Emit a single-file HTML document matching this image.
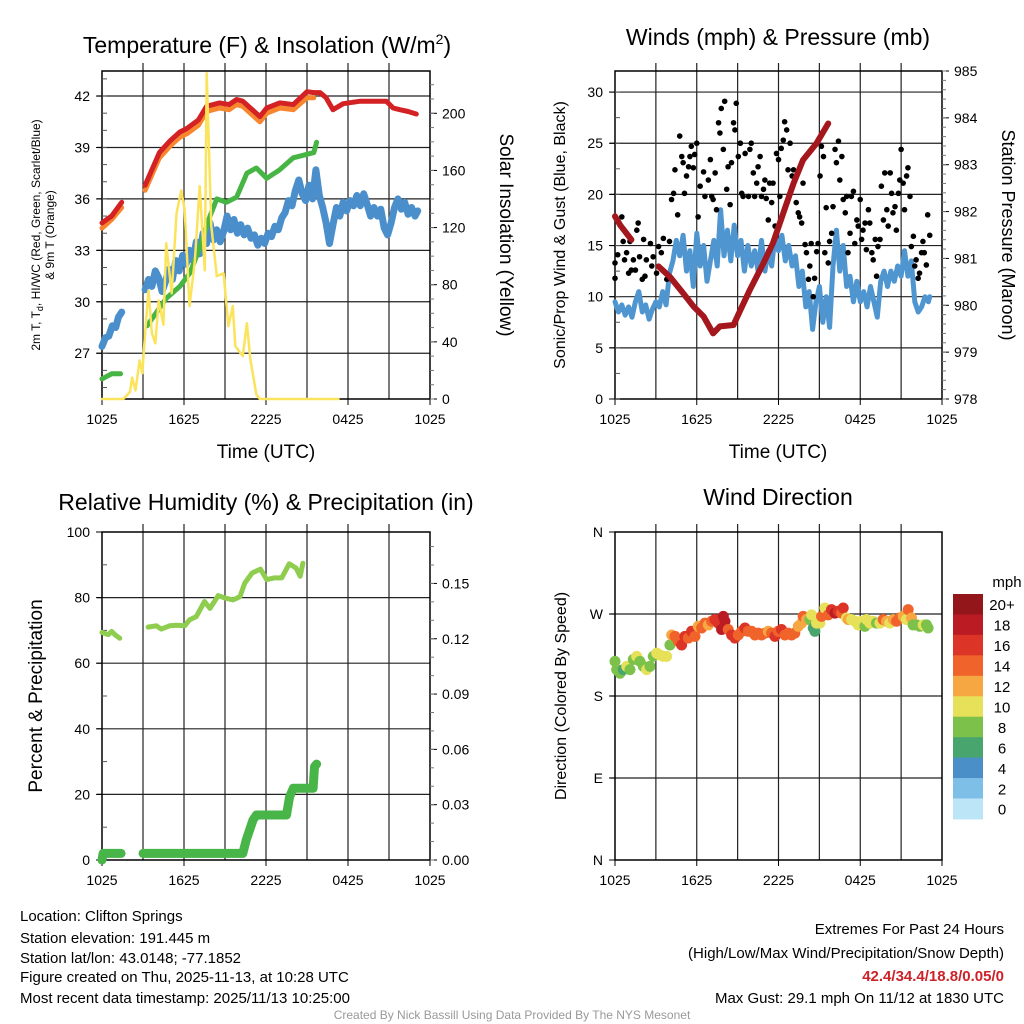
<!DOCTYPE html>
<html><head><meta charset="utf-8"><style>
html,body{margin:0;padding:0;background:#fff;}
svg{display:block;font-family:"Liberation Sans",sans-serif;}
</style></head><body>
<svg id="c" width="1024" height="1024" viewBox="0 0 1024 1024">
<g id="text" font-family="Liberation Sans, sans-serif" fill="#000">
<text x="267" y="53" font-size="23" text-anchor="middle">Temperature (F) &amp; Insolation (W/m<tspan dy="-9" font-size="14">2</tspan><tspan dy="9">)</tspan></text>
<text x="778" y="45" font-size="23" text-anchor="middle">Winds (mph) &amp; Pressure (mb)</text>
<text x="266" y="510" font-size="23" text-anchor="middle">Relative Humidity (%) &amp; Precipitation (in)</text>
<text x="778" y="505" font-size="23" text-anchor="middle">Wind Direction</text>
<text x="266" y="458" font-size="19" text-anchor="middle">Time (UTC)</text>
<text x="778" y="458" font-size="19" text-anchor="middle">Time (UTC)</text>
<text transform="translate(40,235) rotate(-90)" font-size="12" text-anchor="middle">2m T, T<tspan dy="3" font-size="9">d</tspan><tspan dy="-3">, HI/WC (Red, Green, Scarlet/Blue)</tspan></text>
<text transform="translate(54,235) rotate(-90)" font-size="12" text-anchor="middle">&amp; 9m T (Orange)</text>
<text transform="translate(500,235) rotate(90)" font-size="19" text-anchor="middle">Solar Insolation (Yellow)</text>
<text transform="translate(565,235) rotate(-90)" font-size="16" text-anchor="middle">Sonic/Prop Wind &amp; Gust (Blue, Black)</text>
<text transform="translate(1002,235) rotate(90)" font-size="18" text-anchor="middle">Station Pressure (Maroon)</text>
<text transform="translate(42,696) rotate(-90)" font-size="19" text-anchor="middle">Percent &amp; Precipitation</text>
<text transform="translate(566,696) rotate(-90)" font-size="16" text-anchor="middle">Direction (Colored By Speed)</text>
<g font-size="15">
<text x="20" y="921">Location: Clifton Springs</text>
<text x="20" y="943">Station elevation: 191.445 m</text>
<text x="20" y="963">Station lat/lon: 43.0148; -77.1852</text>
<text x="20" y="982">Figure created on Thu, 2025-11-13, at 10:28 UTC</text>
<text x="20" y="1003">Most recent data timestamp: 2025/11/13 10:25:00</text>
</g>
<g font-size="15" text-anchor="end">
<text x="1004" y="934">Extremes For Past 24 Hours</text>
<text x="1004" y="958">(High/Low/Max Wind/Precipitation/Snow Depth)</text>
<text x="1004" y="981" fill="#cc2229" font-weight="bold">42.4/34.4/18.8/0.05/0</text>
<text x="1004" y="1003">Max Gust: 29.1 mph On 11/12 at 1830 UTC</text>
</g>
<text x="512" y="1019" font-size="12" fill="#999" text-anchor="middle">Created By Nick Bassill Using Data Provided By The NYS Mesonet</text>
</g>
</svg>
<script>
// ---------- DATA ----------
const tRedH=[0,0.7,1.44,null,3.15,4.2,5.0,5.7,6.2,7.05,7.65,8.6,9.3,9.85,10.3,11.0,11.55,12.05,13.0,14.0,15.0,15.5,15.95,16.4,16.9,17.65,18.9,19.85,20.8,21.3,21.8,22.4,23.0];
const tRedV=[34.6,35.0,35.8,null,36.8,38.7,39.4,39.9,40.1,40.6,41.4,41.6,41.5,41.8,41.7,41.2,40.8,41.3,41.6,41.5,42.25,42.2,42.2,41.9,41.2,41.55,41.7,41.7,41.7,41.3,41.2,41.1,40.95];
const tOrH=[0,0.7,1.44,null,3.15,4.2,5.0,5.7,6.2,7.05,7.65,8.6,9.3,9.85,10.3,11.0,11.55,12.05,13.0,14.0,15.0,15.5];
const tOrV=[34.3,34.8,35.5,null,36.5,38.4,39.1,39.6,39.8,40.3,41.1,41.3,41.2,41.5,41.4,40.9,40.5,41.0,41.3,41.2,41.9,41.9];
const tGrH=[0,0.7,1.35,null,3.3,4.0,4.7,5.7,6.45,7.2,7.9,8.4,9.1,9.85,10.6,11.3,12.05,13.0,14.0,15.0,15.5,15.7];
const tGrV=[25.5,25.8,25.8,null,28.6,29.4,30.2,30.9,31.7,33.25,35.0,36.0,35.8,36.1,37.5,37.8,37.2,37.7,38.4,38.6,38.7,39.3];
const tBlH=[0,0.25,0.5,0.75,1,1.2,1.44,null,3.15,3.4,3.65,3.9,4.15,4.4,4.65,4.9,5.15,5.4,5.65,5.9,6.15,6.4,6.65,6.9,7.15,7.4,7.65,7.9,8.15,8.4,8.65,8.9,9.15,9.4,9.65,9.9,10.15,10.4,10.65,10.9,11.15,11.4,11.65,11.9,12.15,12.4,12.65,12.9,13.15,13.4,13.65,13.9,14.15,14.4,14.65,14.9,15.15,15.4,15.65,15.9,16.15,16.4,16.65,16.9,17.15,17.4,17.65,17.9,18.15,18.4,18.65,18.9,19.15,19.4,19.65,19.9,20.15,20.4,20.65,20.9,21.15,21.4,21.65,21.9,22.15,22.4,22.65,22.9,23.1];
const tBlV=[27.4,27.9,28.0,28.6,28.5,29.1,29.4,null,30.7,31.3,30.9,31.8,31.4,30.6,31.2,31.9,31.3,32.4,31.8,32.7,32.2,33.0,32.4,33.5,32.8,34.0,33.4,34.6,33.6,34.2,33.5,34.1,35.0,34.2,34.8,34.0,34.5,33.9,34.3,33.7,33.9,33.3,33.7,33.4,34.0,33.8,34.4,34.2,34.9,35.2,35.9,35.6,36.5,37.1,36.3,35.9,36.8,36.0,37.7,36.2,35.5,34.6,33.4,34.5,35.5,35.0,35.8,35.3,35.9,35.6,36.2,35.6,36.3,35.7,35.0,35.5,35.0,35.4,34.3,33.9,34.6,35.5,36.0,35.4,35.8,35.1,35.5,35.0,35.3];
const solH=[0,1.56,2.05,2.2,2.45,2.75,2.95,3.15,3.4,3.65,3.9,4.15,4.49,4.7,5.1,5.45,5.8,6.05,6.4,6.8,7.15,7.52,7.66,8.0,8.4,8.9,9.25,9.57,9.75,10.3,10.6,10.85,11.3,11.55,12.0,17.3];
const solV=[0,0,5,15,6,27,18,46,76,46,39,69,52,109,74,130,146,132,65,97,149,90,228,121,86,88,51,65,37,30,53,28,3,0,0,0];
const wsH=[0,0.25,0.5,0.75,1,1.25,1.5,1.75,2,2.25,2.5,2.75,3,3.25,3.5,3.75,4,4.25,4.5,4.75,5,5.25,5.5,5.75,6,6.25,6.5,6.75,7,7.25,7.5,7.75,8,8.25,8.5,8.75,9,9.25,9.5,9.75,10,10.25,10.5,10.75,11,11.25,11.5,11.75,12,12.25,12.5,12.75,13,13.25,13.5,13.75,14,14.25,14.5,14.75,15,15.25,15.5,15.75,16,16.25,16.5,16.75,17,17.25,17.5,17.75,18,18.25,18.5,18.75,19,19.25,19.5,19.75,20,20.25,20.5,20.75,21,21.25,21.5,21.75,22,22.25,22.5,22.75,23,23.1];
const wsV=[9.5,8.5,9.2,8.2,9.0,8.0,9.5,10.5,8.5,9.2,7.8,8.8,9.5,9.0,10.5,9.2,12.3,13.5,15.5,14.0,16.0,12.5,14.5,11.0,16.2,13.0,15.0,11.5,13.5,15.5,13.0,18.5,14.0,16.5,13.5,17.0,14.0,15.5,12.5,15.0,13.0,14.5,12.5,15.5,12.5,14.5,13.0,16.0,14.5,16.0,13.5,15.0,13.0,14.0,11.0,12.5,9.0,10.5,6.8,9.5,11.0,7.5,10.0,7.0,13.0,16.5,12.5,15.0,11.0,12.0,9.5,11.5,9.5,10.5,9.0,11.0,9.5,8.0,11.5,12.5,11.0,12.5,11.5,13.0,12.0,14.5,12.0,13.5,9.5,8.5,9.0,10.0,9.5,10.0];
const gustH=[0,0,0.2,0.5,0.6,0.7,0.85,1,1.1,1.2,1.35,1.5,1.6,1.7,1.8,2,2.1,2.2,2.3,2.6,2.7,2.8,3.05,3.2,3.4,3.55,3.8,4,4.15,4.3,4.4,4.6,4.75,4.9,5,5.1,5.25,5.4,5.5,5.6,5.75,5.85,6,6.1,6.25,6.5,6.6,6.85,7,7.1,7.2,7.35,7.45,7.6,7.7,7.8,7.95,8.05,8.2,8.3,8.45,8.55,8.7,8.8,8.9,9.05,9.2,9.3,9.4,9.55,9.8,9.9,10,10.15,10.25,10.4,10.5,10.65,10.75,10.9,11,11.1,11.25,11.35,11.5,11.6,11.75,11.85,12,12.1,12.2,12.35,12.45,12.6,12.7,12.85,13,13.1,13.3,13.45,13.55,13.7,13.8,13.95,14.05,14.2,14.3,14.4,14.55,14.65,14.8,14.9,15.05,15.15,15.3,15.4,15.5,15.65,15.75,15.9,16,16.15,16.25,16.4,16.5,16.65,16.75,16.9,17,17.1,17.25,17.35,17.5,17.6,17.75,17.85,18,18.1,18.2,18.35,18.45,18.6,18.7,18.85,18.95,19.1,19.2,19.3,19.45,19.55,19.7,19.8,19.95,20.05,20.2,20.3,20.4,20.55,20.65,20.8,20.9,21,21.15,21.25,21.4,21.5,21.65,21.75,21.9,22,22.1,22.25,22.35,22.5,22.6,22.7,22.85,22.95,23.1];
const gustV=[13.3,11.8,14.1,17.8,15.4,13.6,14.3,12.3,15.4,12.6,13.6,12.6,16.5,17.2,13.9,11.7,15.6,12,13.6,15.2,13,13.9,12.3,14.9,14.3,15.7,11.7,15.4,19.5,20.1,22.4,18,25.7,23.7,23.1,20.1,21.8,22.7,23.7,24.7,22.6,23.9,25,17.8,20.8,22.2,19.8,21.4,23.4,19.8,19.5,22.1,18.5,27,26,28.4,24.4,29.1,20.5,22.7,19,23.1,27,26.3,28.9,23.7,25,20.1,19.8,24,19.8,24.4,25,22.1,19.8,21.1,22.7,23.7,19.8,20.5,21.4,19.6,17.5,21.1,19.2,21.1,16.9,24,23.4,19.8,24.5,25.3,27.1,26.3,22.4,25,21.8,22.4,19.2,18.2,17.8,17.2,21.1,15.1,14.3,11.7,13,15.2,10,11.8,14.4,15.2,21.8,24.7,23.7,14.3,18.7,13.3,15.4,16.2,18.8,24.4,23.1,25.2,21.4,23.7,19.5,18.2,19.8,14.3,16.2,19.8,20.3,15.2,17.5,16.9,19.5,15.6,16.5,17.2,14.6,18.5,17.2,14.3,13.6,15.6,12,14.9,15.6,20.8,17.5,22.1,18.5,16.9,22.1,20.1,18.2,18.8,16.5,20.1,21.4,24.4,21.1,18.5,21.8,22.6,19.8,14.9,15.9,13,13.6,11.8,12.3,14.3,15.4,14.3,13.1,18,16];
const presH=[0,0.4,1.2,null,3.2,4.05,5.0,5.75,6.5,7.2,7.7,8.7,9.2,9.9,10.9,11.6,12.35,13.1,13.8,14.8,15.65];
const presV=[981.9,981.7,981.4,null,980.83,980.6,980.26,979.98,979.76,979.4,979.55,979.58,979.9,980.33,980.9,981.33,981.97,982.6,983.1,983.46,983.88];
const rhH=[0,0.45,0.7,0.95,1.3,null,3.37,3.97,4.34,4.95,5.44,6.05,6.4,6.9,7.5,7.9,8.5,8.97,9.6,10.1,10.44,10.98,11.6,12.05,12.6,13.15,13.7,14.2,14.5,14.7];
const rhV=[69.4,68.7,69.7,68.7,67.6,null,71.0,71.4,70.4,71.4,71.6,71.4,73.2,74.2,78.8,76.7,80.6,79.9,79.3,80.3,84.4,87.5,88.7,85.5,86.0,86.0,90.3,89.0,86.5,90.5];
const prH=[0,0.08,1.4,null,3.0,10.3,10.55,11.05,11.3,13.5,13.73,14.0,14.0,15.45,15.55,15.7];
const prV=[0,0.0036,0.0036,null,0.0036,0.0036,0.0108,0.0217,0.0244,0.0244,0.0343,0.0389,0.0389,0.0389,0.0506,0.052];
const wdH=[0,0.12,0.37,0.61,0.86,1.1,1.34,1.59,1.83,2.08,2.32,2.57,2.81,3.06,3.3,3.55,3.79,4.03,4.16,4.4,4.65,4.89,5.13,5.38,5.62,5.87,6.11,6.36,6.6,6.85,7.09,7.33,7.58,7.82,7.95,8.07,8.31,8.56,8.8,9.05,9.29,9.54,9.78,10.02,10.27,10.51,10.76,11.0,11.25,11.49,11.74,11.98,12.22,12.47,12.71,12.96,13.2,13.45,13.69,13.81,14.06,14.3,14.43,14.55,14.67,14.79,15.04,15.16,15.4,15.65,15.89,16.14,16.38,16.63,16.75,16.99,17.11,17.36,17.6,17.85,18.09,18.34,18.46,18.7,18.95,19.19,19.44,19.68,19.93,20.17,20.42,20.66,20.9,21.15,21.39,21.52,21.76,21.88,22.13,22.37,22.62,22.86,22.98];
const wdV=[218,209,205,209,212.5,209,220,223.5,218,212.5,209,212.5,223.5,227,225,223.5,223.5,236,247,245.5,240,236,245.5,243.6,251,245.5,256.5,254.6,260,258,262,264,260,253,267.4,262,253,247,243.6,247,251,254.6,251,251,247,249,247,249,251,249,245.5,251,253,247,249,247,249,256.5,260,267.4,264,264,269,254.6,251,260,260,267.4,276.6,269,274.8,271,273,271,276.6,265.6,264,264,262,258,262,256.5,264,260,262,260,260,264,262,260,264,262,265.6,267.4,264,274.8,265.6,258,258,256.5,258,258,254.6];
const wdS=[8,8,8,6,10,8,8,10,8,8,10,8,8,10,10,10,10,8,12,14,14,16,16,14,16,14,12,14,14,12,14,16,16,18,18,18,14,16,16,14,14,16,14,14,14,14,14,14,12,14,16,14,16,14,14,14,14,12,12,14,12,8,10,6,6,10,10,14,10,14,16,18,16,14,16,10,12,10,10,10,10,8,10,10,10,8,10,14,12,10,12,14,14,12,10,14,12,8,8,8,10,8,8];
const xTickLabels=["1025","1625","2225","0425","1025"];
const tempTicks=[27,30,33,36,39,42];
const solTicks=[0,40,80,120,160,200];
const windTicks=[0,5,10,15,20,25,30];
const presTicks=[978,979,980,981,982,983,984,985];
const rhTicks=[0,20,40,60,80,100];
const prTicks=[0,0.03,0.06,0.09,0.12,0.15];
const dirLabels=["N","E","S","W","N"];
const cbLabels=["0","2","4","6","8","10","12","14","16","18","20+"];
const cbColors=["#bde5f8","#7ebfe8","#4a8fc8","#48a56e","#7cc24a","#e6e158","#f7a742","#f0632a","#dc3527","#bb1c24","#93161b"];

// ---------- DRAW ----------
const NS="http://www.w3.org/2000/svg";
const svg=document.getElementById('c');
function mk(tag,attrs,parent){const e=document.createElementNS(NS,tag);for(const k in attrs)e.setAttribute(k,attrs[k]);(parent||svg).appendChild(e);return e;}
function lin(d0,d1,r0,r1){return v=>r0+(v-d0)*(r1-r0)/(d1-d0);}
const P={t:{x0:102,x1:430,y0:71,y1:399},w:{x0:615,x1:942,y0:71,y1:399},r:{x0:102,x1:430,y0:532,y1:860},d:{x0:615,x1:942,y0:532,y1:860}};
function frame(p,name,yl,ylTicks,ylFmt,yr,yrTicks,yrFmt,minorL,minorR){
  const g=mk('g',{});
  
  
  const xs=lin(0,24,p.x0,p.x1);
  for(let h=3;h<24;h+=3){const l=mk('line',{x1:xs(h),x2:xs(h),y1:p.y0-8,y2:p.y1,stroke:'#222','stroke-width':1.2},g);
    }
  ylTicks.forEach(v=>{const y=yl(v);if(y>p.y0+1&&y<p.y1-1){const l=mk('line',{x1:p.x0-5,x2:p.x1,y1:y,y2:y,stroke:'#222','stroke-width':1.2},g);
    }});
  mk('rect',{x:p.x0,y:p.y0,width:p.x1-p.x0,height:p.y1-p.y0,fill:'none',stroke:'#000','stroke-width':1.5},g);
  for(let i=0;i<5;i++){const x=xs(i*6);mk('line',{x1:x,x2:x,y1:p.y1,y2:p.y1+6,stroke:'#000'},g);
    const t=mk('text',{x:x,y:p.y1+25,'font-size':14,'text-anchor':'middle'},g);t.textContent=xTickLabels[i];
    }
  ylTicks.forEach(v=>{const y=yl(v);mk('line',{x1:p.x0-6,x2:p.x0,y1:y,y2:y,stroke:'#000'},g);
    const t=mk('text',{x:p.x0-12,y:y+5,'font-size':14,'text-anchor':'end'},g);t.textContent=ylFmt(v);
    });
  (minorL||[]).forEach(v=>{const y=yl(v);mk('line',{x1:p.x0,x2:p.x0+5,y1:y,y2:y,stroke:'#555'},g);});
  if(yr){yrTicks.forEach(v=>{const y=yr(v);mk('line',{x1:p.x1,x2:p.x1+7,y1:y,y2:y,stroke:'#000'},g);
    const t=mk('text',{x:p.x1+12,y:y+5,'font-size':14},g);t.textContent=yrFmt(v);
    });
    (minorR||[]).forEach(v=>{const y=yr(v);mk('line',{x1:p.x1,x2:p.x1+4,y1:y,y2:y,stroke:'#777'},g);});}
  return xs;
}
function path(xs,ys,H,V,color,w,name){
  let d='',pen=false;
  for(let i=0;i<H.length;i++){if(H[i]===null||V[i]===null){pen=false;continue;}
    d+=(pen?'L':'M')+xs(H[i]).toFixed(1)+' '+ys(V[i]).toFixed(1);pen=true;}
  const e=mk('path',{d:d,fill:'none',stroke:color,'stroke-width':w,'stroke-linejoin':'round','stroke-linecap':'round'});
  
  
  return e;
}
function range(a,b,s){const r=[];for(let v=a;v<=b+1e-9;v+=s)r.push(+v.toFixed(4));return r;}

const tY=lin(24.33,43.46,P.t.y1,P.t.y0), sY=lin(0,229.6,P.t.y1,P.t.y0);
const tX=frame(P.t,'temp',tY,tempTicks,v=>v,sY,solTicks,v=>v,range(25,43,1),range(0,220,10));
path(tX,tY,tBlH,tBlV,'#4a8fcb',7,'heat-index-windchill-line');
path(tX,tY,tGrH,tGrV,'#46b543',5,'dewpoint-line');
path(tX,tY,tOrH,tOrV,'#f7862e',5,'temp-9m-line');
path(tX,tY,tRedH,tRedV,'#d42124',5,'temp-2m-line');
path(tX,sY,solH,solV,'#fbe35c',2.5,'solar-insolation-line');

const wY=lin(0,32.06,P.w.y1,P.w.y0), pY=lin(978,985,P.w.y1,P.w.y0);
const wX=frame(P.w,'wind',wY,windTicks,v=>v,pY,presTicks,v=>v,range(0,32,2.5),range(978,985,0.2));
path(wX,wY,wsH,wsV,'#4f95d0',5,'wind-speed-line');
for(let i=0;i<gustH.length;i++){const c=mk('circle',{cx:wX(gustH[i]),cy:wY(gustV[i]),r:2.8,fill:'#000'});
  
  }
path(wX,pY,presH,presV,'#a3171d',6,'pressure-line');

const rY=lin(0,100,P.r.y1,P.r.y0), prY=lin(0,0.1779,P.r.y1,P.r.y0);
const rX=frame(P.r,'rh',rY,rhTicks,v=>v,prY,prTicks,v=>v.toFixed(2),range(10,90,20),range(0,0.175,0.01));
path(rX,rY,rhH,rhV,'#8fcd4f',5,'relative-humidity-line');
path(rX,prY,prH,prV,'#48b548',9,'precipitation-line');

const dY=lin(0,360,P.d.y1,P.d.y0);
const dX=frame(P.d,'wdir',dY,[0,90,180,270,360],v=>dirLabels[v/90],null);
for(let i=0;i<wdH.length;i++){const idx=Math.min(10,Math.max(0,Math.round(wdS[i]/2)));
  const c=mk('circle',{cx:dX(wdH[i]),cy:dY(wdV[i]),r:5.5,fill:cbColors[idx]});
  
  }
const cb=mk('g',{});


const cbTop=594,cbStep=20.45;
for(let i=0;i<cbColors.length;i++){const k=cbColors.length-1-i;
  mk('rect',{x:953,y:cbTop+i*cbStep,width:30,height:cbStep+0.5,fill:cbColors[k]},cb);
  const t=mk('text',{x:1002,y:cbTop+i*cbStep+cbStep/2+6,'font-size':15,'text-anchor':'middle'},cb);t.textContent=cbLabels[k];
  }
const mt=mk('text',{x:1007,y:587,'font-size':15,'text-anchor':'middle'},cb);mt.textContent='mph';


</script>
</body></html>
